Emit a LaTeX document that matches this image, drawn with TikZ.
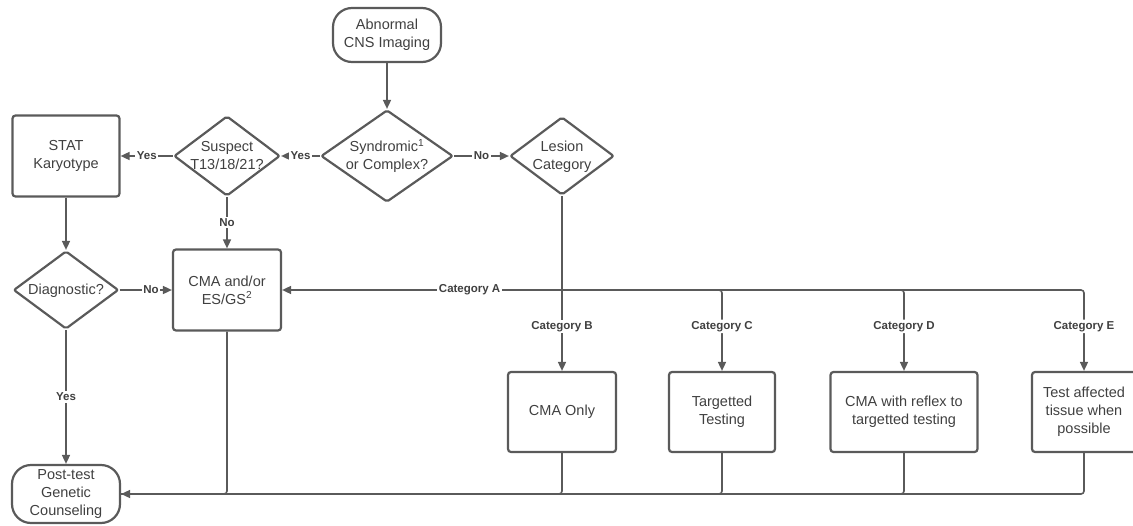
\documentclass[tikz,border=0pt]{standalone}
\usepackage{fontspec}
\setmainfont{Liberation Sans}
\usetikzlibrary{shapes.geometric,arrows.meta}
\definecolor{linegray}{HTML}{5A5A5A}
\definecolor{txtgray}{HTML}{404040}
% text of a diamond, kept out of the shape size
\newcommand\dtext[1]{\makebox[0pt]{\raisebox{-0.3em}[0pt][0pt]{\begin{tabular}{@{}c@{}}#1\end{tabular}}}}

\begin{document}
\begin{tikzpicture}[x=1pt,y=-1pt,
	font=\fontsize{14.5}{18}\selectfont,
	every node/.style={text=txtgray},
	term/.style={draw=linegray,line width=2.2pt,rounded corners=19pt,align=center,inner sep=1pt,minimum width=108pt},
	box/.style={draw=linegray,line width=2.2pt,rounded corners=3pt,align=center,inner sep=2pt,minimum height=81pt},
	decision/.style 2 args={diamond,draw=linegray,line width=2.2pt,rounded corners=2pt,inner sep=0pt,minimum width=#1,minimum height=#2},
	flow/.style={draw=linegray,line width=1.6pt,-{Triangle[length=9pt,width=8pt]}},
	lbl/.style={fill=white,inner sep=1.5pt,font=\bfseries\fontsize{11.5}{13}\selectfont}]
\useasboundingbox (0,0) rectangle (1133,525);

% nodes
\node[term,minimum height=54pt] (abn) at (387,35) {Abnormal\\CNS Imaging};
\node[decision={132pt}{92pt}] (synd) at (387,156) {\dtext{Syndromic\textsuperscript{1}\\or Complex?}};
\node[decision={104pt}{78pt}] (lesion) at (562,156) {\dtext{Lesion\\Category}};
\node[decision={106pt}{80pt}] (susp) at (227,156) {\dtext{Suspect\\T13/18/21?}};
\node[box,minimum width=107pt] (stat) at (66,156) {STAT\\Karyotype};
\node[decision={105pt}{78pt}] (diag) at (66,290) {\dtext{Diagnostic?}};
\node[box,minimum width=108pt] (cma) at (227,290) {CMA and/or\\ES/GS\textsuperscript{2}};
\node[term,minimum height=58pt] (post) at (66,494) {Post-test\\Genetic\\Counseling};

\node[box,minimum width=108pt,minimum height=80pt] (cmaonly) at (562,412) {CMA Only};
\node[box,minimum width=106pt,minimum height=80pt] (targ) at (722,412) {Targetted\\Testing};
\node[box,minimum width=147pt,minimum height=80pt] (reflex) at (904,412) {CMA with reflex to\\targetted testing};
\node[box,minimum width=104pt,minimum height=80pt] (teste) at (1084,412) {Test affected\\tissue when\\possible};

% connectors
\draw[flow] (abn.south) -- (synd.north);
\draw[flow] (synd.west) -- node[lbl]{Yes} (susp.east);
\draw[flow] (susp.west) -- node[lbl]{Yes} (stat.east);
\draw[flow] (synd.east) -- node[lbl]{No} (lesion.west);
\draw[flow] (susp.south) -- node[lbl]{No} (cma.north);
\draw[flow] (stat.south) -- (diag.north);
\draw[flow] (diag.east) -- node[lbl,pos=0.6]{No} (cma.west);
\draw[flow] (diag.south) -- node[lbl]{Yes} (post.north);

\coordinate (hub) at (lesion.south |- cma.east);
\draw[linegray,line width=1.6pt] (lesion.south) -- (hub);
\draw[flow] (hub) -- node[lbl,pos=0.33]{Category A} (cma.east);
\draw[flow] (hub) -- node[lbl,pos=0.45]{Category B} (cmaonly.north);
\foreach \bx/\cat in {targ/C,reflex/D,teste/E}
	\draw[flow,rounded corners=3pt] (hub) -| node[lbl,pos=0.725]{Category \cat} (\bx.north);

\draw[flow,rounded corners=3pt] (teste.south) |- (post.east);
\foreach \bx in {cma,cmaonly,targ,reflex}
	\draw[linegray,line width=1.6pt,rounded corners=3pt] (\bx.south) |- (post.east);

\end{tikzpicture}
\end{document}
